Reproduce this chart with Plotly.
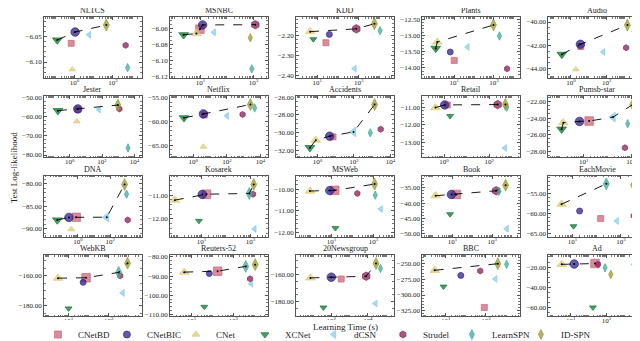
import plotly.graph_objects as go
from plotly.subplots import make_subplots

datasets = ['NLTCS', 'MSNBC', 'KDD', 'Plants', 'Audio',
            'Jester', 'Netflix', 'Accidents', 'Retail', 'Pumsb-star',
            'DNA', 'Kosarek', 'MSWeb', 'Book', 'EachMovie',
            'WebKB', 'Reuters-52', '20Newsgroup', 'BBC', 'Ad']
methods = ['CNetBD', 'CNetBIC', 'CNet', 'XCNet', 'dCSN', 'Strudel', 'LearnSPN', 'ID-SPN']

# learning time (s) and test log-likelihood per method, one entry per dataset
cnetbd_time = [0.67, 9.5, 26, 10, 3.6, 3.3, 4.5, 7.2, 1.4, 17, 0.79, 16, 14.5, 15.8, 146, 74, 178, 350, 830, 230]
cnetbd_ll = [-6.063, -6.061, -2.235, -13.772, -42.1, -56.2, -58.66, -30.5, -10.87, -24.36, -87.45, -10.96, -10.06, -37.15, -61.2, -161.3, -87.4, -163.3, -319.8, -16.5]
cnetbic_time = [1.07, 12, 38, 6.3, 3.4, 3.2, 4.0, 4.7, 1.07, 6.7, 0.28, 10.7, 8.4, 8.9, 19.6, 53, 71, 100, 56, 15.5]
cnetbic_ll = [-6.0407, -6.0558, -2.193, -13.512, -41.91, -56.0, -58.45, -30.42, -10.87, -24.4, -87.47, -10.97, -10.07, -37.16, -59.3, -164.4, -88.6, -162.0, -268.7, -17.0]
cnet_time = [0.76, 7, 4.5, 1.4, 1.9, 2.8, 4, 0.82, 0.42, 1.38, 0.39, 0.8, 0.96, 1.42, 3.5, 3.0, 4.5, 7.2, 2.8, 3.1]
cnet_ll = [-6.1146, -6.0663, -2.179, -13.204, -44.06, -62.5, -65.33, -30.87, -11.02, -24.56, -90.1, -11.21, -10.09, -37.58, -57.6, -161.6, -87.9, -162.5, -260.5, -17.3]
xcnet_time = [0.126, 2.3, 6.4, 1.17, 0.31, 0.19, 0.28, 0.39, 1.85, 1.17, 0.054, 7.8, 15.4, 7.6, 11, 10, 41, 37, 7.7, 175]
xcnet_ll = [-6.0565, -6.068, -2.217, -13.401, -42.77, -56.9, -59.28, -31.73, -11.5, -25.35, -88.05, -12.08, -11.8, -43.6, -63.1, -181.9, -106, -184.2, -286.5, -60]
dcsn_time = [5.7, 32, 630, 47, 65, 63, 100, 95, 490, 174, 60, 1480, 2200, 5500, 680, 4900, 7100, 26000, 2950, 35000]
dcsn_ll = [-6.046, -6.065, -2.366, -13.358, -42.57, -56.3, -58.85, -29.93, -13.3, -23.88, -87.43, -12.42, -10.92, -48.35, -61.8, -171.5, -94, -181.3, -274.2, -17.5]
strudel_time = [455, 1180, 760, 4600, 1230, 1180, 860, 2900, 233, 550, 1180, 1290, 170, 1600, 3400, 3700, 6300, 8100, 520, 340]
strudel_ll = [-6.067, -6.0555, -2.165, -14.028, -42.2, -56.0, -58.57, -29.63, -10.85, -27.6, -88.05, -10.96, -10.2, -35.97, -60.5, -160, -91.4, -161.3, -261.5, -17.3]
learnspn_time = [580, 870, 10700, 1900, 3400, 4000, 4500, 780, 590, 720, 1000, 900, 1200, 2200, 250, 3100, 3900, 49000, 10700, 850]
learnspn_ll = [-6.111, -6.110, -2.174, -13.019, -40.78, -76.3, -57.2, -30.04, -11.0, -24.68, -82.35, -10.93, -10.28, -36.1, -52.5, -157.7, -84.9, -155.6, -251, -20.7]
idspn_time = [45, 760, 5700, 950, 1450, 950, 2500, 1350, 510, 1180, 760, 1370, 1120, 4800, 3100, 8500, 11000, 28000, 3900, 1780]
idspn_ll = [-6.0269, -6.0716, -2.139, -12.679, -40.26, -54.0, -56.5, -26.82, -10.84, -22.36, -80.2, -10.55, -9.77, -34.16, -52.8, -151.5, -84.0, -152, -250, -27.3]

times = [cnetbd_time, cnetbic_time, cnet_time, xcnet_time, dcsn_time, strudel_time, learnspn_time, idspn_time]
lls = [cnetbd_ll, cnetbic_ll, cnet_ll, xcnet_ll, dcsn_ll, strudel_ll, learnspn_ll, idspn_ll]

colors = ['#CC6677', '#332288', '#DDCC77', '#117733', '#88CCEE', '#882255', '#44AA99', '#999933']
symbols = ['square', 'circle', 'triangle-up', 'triangle-down', 'triangle-left', 'hexagon', 'diamond-tall', 'diamond-tall']

# axis settings per panel
x_ranges = [[-1.59, 3.49], [-0.15, 3.54], [-0.02, 4.69], [-0.61, 4.31], [-1.26, 4.2],
            [-1.58, 4.44], [-1.38, 4.43], [-1.16, 4.18], [-0.96, 3.35], [-0.49, 3.63],
            [-2.09, 3.93], [-0.29, 3.71], [-0.67, 3.96], [-0.52, 4.4], [0.0, 4.04],
            [-0.22, 4.63], [-0.02, 4.64], [0.08, 5.42], [-0.17, 4.69], [-0.26, 5.23]]
x_tick_exp = [[0, 2], [1, 3], [1, 3], [1, 3], [0, 2, 4],
              [0, 2, 4], [0, 2, 4], [0, 2, 4], [0, 2], [1, 3],
              [0, 2], [1, 3], [1, 3], [1, 3], [1, 3],
              [1, 3], [1, 3], [2, 4], [1, 3, 5], [1, 3, 5]]
y_ranges = [[-6.131, -6.011], [-6.121, -6.046], [-2.412, -2.105], [-14.306, -12.432], [-44.77, -39.57],
            [-81.1, -49.5], [-67.5, -54.8], [-32.81, -25.89], [-13.82, -10.39], [-28.74, -21.37],
            [-91.7, -78.3], [-12.74, -10.19], [-12.19, -9.39], [-50.9, -31.1], [-65.7, -50.5],
            [-187, -146.2], [-110.8, -79.1], [-190.5, -145.9], [-333.5, -236.5], [-68.5, -8.3]]
y_dticks = [0.05, 0.02, 0.1, 0.5, 2, 10, 5, 2, 1, 2, 5, 1, 1, 5, 5, 20, 10, 20, 25, 20]


def pareto(ts, ls):
    best = float('-inf')
    out = []
    for t, l in sorted(zip(ts, ls)):
        if l > best:
            out.append((t, l))
            best = l
    return out


def rgba(hx, a):
    return f'rgba({int(hx[1:3], 16)},{int(hx[3:5], 16)},{int(hx[5:7], 16)},{a})'


FONT = 'Liberation Serif'
fig = make_subplots(rows=4, cols=5, subplot_titles=datasets,
                    horizontal_spacing=0.0473, vertical_spacing=0.0625)

# legend-only entries
for k, m in enumerate(methods):
    fig.add_trace(go.Scatter(
        x=[None], y=[None], mode='markers', name=m, legendgroup=m,
        marker=dict(symbol=symbols[k], size=7, color=rgba(colors[k], 0.75),
                    line=dict(color=colors[k], width=0.7))), row=1, col=1)

for i, name in enumerate(datasets):
    r, c = i // 5 + 1, i % 5 + 1
    ts = [t[i] for t in times]
    ls = [l[i] for l in lls]
    front = pareto(ts, ls)
    on_front = set(front)
    for k, m in enumerate(methods):
        big = (ts[k], ls[k]) in on_front
        fig.add_trace(go.Scatter(
            x=[ts[k]], y=[ls[k]], mode='markers', name=m, legendgroup=m,
            showlegend=False,
            marker=dict(symbol=symbols[k], size=8.5 if big else 6,
                        color=rgba(colors[k], 0.75),
                        line=dict(color=colors[k], width=0.7))),
            row=r, col=c)
    fig.add_trace(go.Scatter(
        x=[p[0] for p in front], y=[p[1] for p in front], mode='lines+markers',
        showlegend=False, line=dict(color='black', width=0.9, dash='dash'),
        marker=dict(color='black', size=2)), row=r, col=c)

    fig.update_xaxes(type='log', range=x_ranges[i],
                     tickvals=[10 ** e for e in x_tick_exp[i]],
                     ticktext=[f'10<sup>{e}</sup>' for e in x_tick_exp[i]],
                     row=r, col=c)
    fig.update_yaxes(range=y_ranges[i], dtick=y_dticks[i], tick0=0,
                     tickformat='.2f', row=r, col=c)

axis_style = dict(showline=True, linecolor='#555', linewidth=0.8, mirror='ticks',
                  ticks='inside', ticklen=3, tickwidth=0.7, tickcolor='#555',
                  showgrid=False, zeroline=False, automargin=False,
                  tickfont=dict(family=FONT, size=7, color='#222'))
fig.update_xaxes(**axis_style, ticklabelstandoff=-2,
                 minor=dict(ticks='inside', ticklen=1.6, tickcolor='#777',
                            dtick='D1', showgrid=False))
fig.update_yaxes(**axis_style, minor=dict(ticks='inside', ticklen=1.6, tickcolor='#777',
                                          nticks=5, showgrid=False))

for a in fig.layout.annotations:
    a.font = dict(family=FONT, size=8, color='#222')

fig.add_annotation(text='Learning Time (s)', xref='paper', yref='paper', x=0.5, y=-0.06,
                   showarrow=False, font=dict(family=FONT, size=9, color='#222'))
fig.add_annotation(text='Test Log-likelihood', xref='paper', yref='paper', x=-0.05, y=0.497,
                   xanchor='center', yanchor='middle',
                   textangle=-90, showarrow=False, font=dict(family=FONT, size=9, color='#222'))

fig.update_layout(
    width=640, height=341,
    margin=dict(l=36, r=2, t=9, b=33),
    plot_bgcolor='white', paper_bgcolor='white',
    font=dict(family=FONT, size=8, color='#222'),
    legend=dict(orientation='h', x=0.478, xanchor='center', xref='container',
                y=-0.03, yanchor='bottom', yref='container',
                font=dict(family=FONT, size=9, color='#222'),
                entrywidth=24, entrywidthmode='pixels',
                itemwidth=30, tracegroupgap=0),
)

fig.write_html('out.html')
